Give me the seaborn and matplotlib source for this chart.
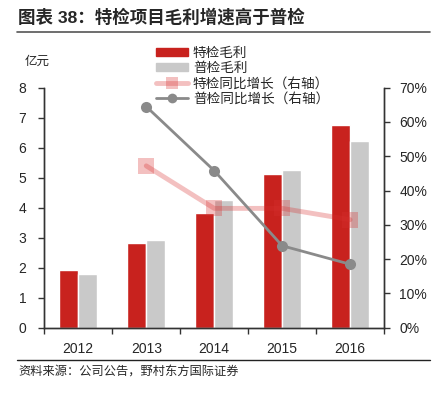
import matplotlib
matplotlib.use('Agg')
import matplotlib.pyplot as plt
import seaborn as sns
import pandas as pd
from matplotlib.lines import Line2D

years = ["2012", "2013", "2014", "2015", "2016"]
special_profit = [1.93, 2.82, 3.81, 5.12, 6.75]   # 特检毛利, 亿元
general_profit = [1.79, 2.91, 4.24, 5.25, 6.21]   # 普检毛利, 亿元
growth_years = ["2013", "2014", "2015", "2016"]
special_growth = [47.2, 34.8, 34.8, 31.5]         # 特检同比增长 %
general_growth = [64.5, 45.8, 23.9, 18.5]         # 普检同比增长 %

RED = "#C8221E"
GREY = "#C9C9C9"
LINE_GREY = "#8A8A8A"

sns.set_style("white")
plt.rcParams['font.family'] = ['Liberation Sans', 'Noto Sans CJK SC']
plt.rcParams['axes.unicode_minus'] = False

bars = pd.DataFrame({
    "year": years * 2,
    "value": special_profit + general_profit,
    "kind": ["特检毛利"] * len(years) + ["普检毛利"] * len(years),
})

fig = plt.figure(figsize=(4.4, 3.97), dpi=100)
ax = fig.add_axes([0.1007, 0.1746, 0.7723, 0.6045])

sns.barplot(data=bars, x="year", y="value", hue="kind", order=years,
            hue_order=["特检毛利", "普检毛利"], palette=[RED, GREY],
            width=0.56, saturation=1, ax=ax, legend=False)

ax2 = ax.twinx()
pos_growth = [years.index(y) for y in growth_years]
sns.lineplot(x=pos_growth, y=special_growth, ax=ax2, color="#D83030", alpha=0.3,
             linewidth=3.5, marker="s", markersize=11, markeredgewidth=0)
sns.lineplot(x=pos_growth, y=general_growth, ax=ax2, color=LINE_GREY,
             linewidth=2, marker="o", markersize=8, markeredgewidth=0)

ax.set_xlim(-0.5, 4.5)
ax.set_ylim(0, 8)
ax2.set_ylim(0, 70)
ax.set_yticks(range(0, 9))
ax2.set_yticks(range(0, 71, 10))
ax2.set_yticklabels([f"{v}%" for v in range(0, 71, 10)])
ax.set_xticks([i + 0.5 for i in range(-1, 5)], minor=True)
ax.set_xlabel("")
ax.set_ylabel("")

for a in (ax, ax2):
    a.spines["top"].set_visible(False)
    for s in ("left", "right", "bottom"):
        a.spines[s].set_color("#333333")
        a.spines[s].set_linewidth(1)

ax.tick_params(axis="y", left=True, length=4, width=1, color="#333333",
               labelsize=10, pad=9)
ax.tick_params(axis="x", which="major", bottom=False, labelsize=10, pad=7)
ax.tick_params(axis="x", which="minor", bottom=True, length=4, width=1, color="#333333")
ax2.tick_params(axis="y", right=True, length=4, width=1, color="#333333",
                labelsize=10, pad=7)

# legend
handles = [
    plt.Rectangle((0, 0), 1, 1, color=RED),
    plt.Rectangle((0, 0), 1, 1, color=GREY),
    Line2D([], [], color="#D83030", alpha=0.3, linewidth=3.5, marker="s",
           markersize=9, markeredgewidth=0),
    Line2D([], [], color=LINE_GREY, linewidth=2, marker="o", markersize=7,
           markeredgewidth=0),
]
labels = ["特检毛利", "普检毛利", "特检同比增长（右轴）", "普检同比增长（右轴）"]
fig.legend(handles, labels, loc="upper left", bbox_to_anchor=(0.355, 0.885),
           frameon=False, fontsize=9.8, handlelength=2.3, handleheight=0.5,
           handletextpad=0.4, labelspacing=0.1, borderaxespad=0, borderpad=0)

fig.text(0.055, 0.845, "亿元", fontsize=9, va="center", ha="left")

# title and rules
fig.text(0.041, 0.957, "图表 38：特检项目毛利增速高于普检", fontsize=12.6,
         fontweight="bold", va="center", ha="left")
fig.add_artist(Line2D([0.039, 0.977], [0.919, 0.919], color="#555555",
                      linewidth=1.2, transform=fig.transFigure))
fig.add_artist(Line2D([0.039, 0.977], [0.093, 0.093], color="#222222",
                      linewidth=1, transform=fig.transFigure))
fig.text(0.041, 0.061, "资料来源：公司公告，野村东方国际证券", fontsize=8.8,
         va="center", ha="left")

fig.savefig("out.png", dpi=100)
